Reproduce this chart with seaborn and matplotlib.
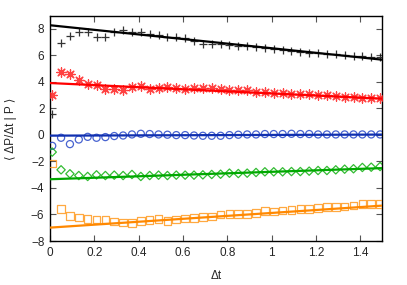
import numpy as np
import pandas as pd
import matplotlib
matplotlib.use("Agg")
import matplotlib.pyplot as plt
import seaborn as sns

# ---- data ----
dt = [0.01 + 0.04 * i for i in range(38)]

black_pts = [1.55, 6.95, 7.45, 7.78, 7.75, 7.37, 7.40, 7.80, 7.95, 7.75,
             7.75, 7.62, 7.57, 7.42, 7.37, 7.32, 7.07, 6.89, 6.87, 6.84,
             6.77, 6.72, 6.69, 6.61, 6.54, 6.49, 6.41, 6.31, 6.26, 6.21,
             6.16, 6.14, 6.08, 6.04, 5.99, 5.93, 5.86, 5.86]
red_pts = [3.04, 4.73, 4.60, 4.17, 3.87, 3.79, 3.47, 3.47, 3.42, 3.62,
           3.67, 3.49, 3.52, 3.64, 3.57, 3.49, 3.52, 3.52, 3.52, 3.47,
           3.39, 3.42, 3.37, 3.27, 3.27, 3.17, 3.17, 3.11, 3.11, 3.09,
           3.04, 3.01, 2.96, 2.86, 2.86, 2.81, 2.81, 2.81]
blue_pts = [-0.82, -0.21, -0.69, -0.34, -0.14, -0.21, -0.16, -0.08, -0.04, 0.04,
            0.09, 0.07, 0.04, 0.02, -0.01, -0.01, -0.04, -0.06, -0.06, -0.06,
            -0.01, 0.02, 0.04, 0.04, 0.07, 0.07, 0.07, 0.09, 0.07, 0.07,
            0.04, 0.04, 0.04, 0.04, 0.04, 0.04, 0.04, 0.04]
green_pts = [-1.29, -2.63, -2.93, -3.06, -3.13, -3.01, -3.06, -3.03, -3.06, -2.98,
             -3.13, -3.06, -3.03, -3.06, -3.03, -3.03, -3.03, -3.01, -2.98, -2.96,
             -2.88, -2.91, -2.88, -2.83, -2.78, -2.78, -2.78, -2.76, -2.76, -2.73,
             -2.68, -2.68, -2.63, -2.58, -2.55, -2.45, -2.43, -2.38]
orange_pts = [-2.15, -5.60, -6.11, -6.23, -6.36, -6.38, -6.38, -6.54, -6.59, -6.64,
              -6.49, -6.43, -6.36, -6.49, -6.38, -6.31, -6.26, -6.21, -6.16, -6.01,
              -5.96, -5.98, -5.98, -5.90, -5.73, -5.78, -5.71, -5.68, -5.58, -5.60,
              -5.53, -5.45, -5.43, -5.40, -5.33, -5.22, -5.22, -5.20]

fit_x = [0.0, 1.5]
black_fit = [8.28, 5.68]
red_fit = [3.92, 2.74]
blue_fit = [-0.05, 0.03]
green_fit = [-3.34, -2.50]
orange_fit = [-6.99, -5.33]

x_ticks = [0, 0.2, 0.4, 0.6, 0.8, 1.0, 1.2, 1.4]
x_tick_labels = ["0", "0.2", "0.4", "0.6", "0.8", "1", "1.2", "1.4"]
y_ticks = [-8, -6, -4, -2, 0, 2, 4, 6, 8]

series = [
    ("black", black_pts, black_fit, "#000000", "#101010", "+", 40),
    ("red", red_pts, red_fit, "#ff0000", "#ff2020", (8, 2, 0), 45),
    ("blue", blue_pts, blue_fit, "#1030b0", "#2848c8", "o", 26),
    ("green", green_pts, green_fit, "#00a800", "#10b010", "D", 18),
    ("orange", orange_pts, orange_fit, "#ff8800", "#ff9a20", "s", 30),
]

sns.set_style("ticks")
plt.rcParams["font.family"] = ["Liberation Sans", "DejaVu Sans"]

fig = plt.figure(figsize=(4.07, 2.85), dpi=100)
ax = fig.add_axes([50 / 407, 1 - 241 / 285, (382.3 - 50) / 407, (241 - 15.7) / 285])

for name, pts, fit, lc, mc, mk, sz in series:
    df = pd.DataFrame({"dt": dt, "v": pts})
    dfit = pd.DataFrame({"dt": fit_x, "v": fit})
    if mk in ("+",) or isinstance(mk, tuple):
        sns.scatterplot(data=df, x="dt", y="v", ax=ax, marker=mk, s=sz,
                        color=mc, linewidth=0.9, alpha=0.85, zorder=3)
    else:
        sns.scatterplot(data=df, x="dt", y="v", ax=ax, marker=mk, s=sz,
                        facecolors="none", edgecolor=mc, linewidth=0.9,
                        alpha=0.85, zorder=3)
    sns.lineplot(data=dfit, x="dt", y="v", ax=ax, color=lc, linewidth=1.6,
                 zorder=4)

ax.set_xlim(0, 1.5)
ax.set_ylim(-8, 9)
ax.set_xticks(x_ticks)
ax.set_xticklabels(x_tick_labels)
ax.set_yticks(y_ticks)
ax.tick_params(direction="in", length=4, width=0.8, labelsize=8.5,
               top=True, right=True, color="#555555", pad=4)
for sp in ax.spines.values():
    sp.set_linewidth(1.0)
    sp.set_color("black")
ax.set_xlabel("Δt", fontsize=8.5, labelpad=8)
ax.set_ylabel("⟨ ΔP/Δt | P ⟩", fontsize=8.5, labelpad=10)

fig.savefig("out.png", dpi=100)
